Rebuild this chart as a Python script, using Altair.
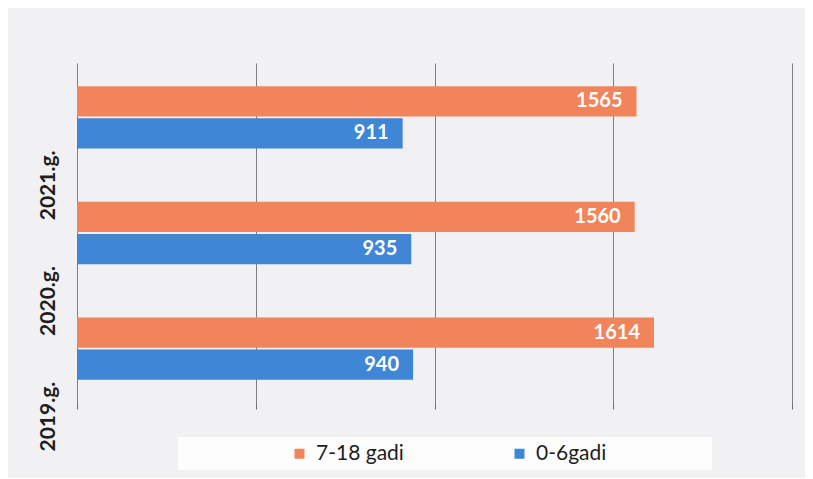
import altair as alt
import pandas as pd

years = ["2019.g.", "2020.g.", "2021.g."]
series = ["7-18 gadi", "0-6gadi"]
vals_7_18 = [1614, 1560, 1565]
vals_0_6 = [940, 935, 911]
colors = ["#f2845c", "#3f86d6"]
x_ticks = [0, 500, 1000, 1500, 2000]

rows = []
for i, y in enumerate(years):
    rows.append({"year": y, "group": series[0], "value": vals_7_18[i]})
    rows.append({"year": y, "group": series[1], "value": vals_0_6[i]})
df = pd.DataFrame(rows)

FONT = "Lato"

y_enc = alt.Y(
    "year:N",
    sort=list(reversed(years)),
    scale=alt.Scale(paddingInner=0.46, paddingOuter=0.2),
    axis=alt.Axis(
        title=None, labelAngle=-90, labelFont=FONT, labelFontWeight="bold",
        labelFontSize=21, labelColor="#1e1e1e", labelPadding=19,
        labelOffset=68, ticks=False, domain=False, grid=False,
    ),
)
x_enc = alt.X(
    "value:Q",
    scale=alt.Scale(domain=[0, 2000], nice=False),
    axis=alt.Axis(
        title=None, values=x_ticks, labels=False, ticks=True, tickSize=6,
        tickColor="#6e6e6e", domain=False, grid=True, gridColor="#7e7e7e",
        gridWidth=1,
    ),
)
yoff = alt.YOffset("group:N", sort=series, scale=alt.Scale(paddingInner=0.06))

legend_box = alt.Chart(pd.DataFrame({"k": [0]})).mark_rect(
    color="#ffffff", opacity=0.85
).encode(
    x=alt.value(101), x2=alt.value(635), y=alt.value(374), y2=alt.value(407)
)

bars = alt.Chart(df).mark_bar().encode(
    y=y_enc,
    x=x_enc,
    yOffset=yoff,
    color=alt.Color(
        "group:N",
        sort=series,
        scale=alt.Scale(domain=series, range=colors),
        legend=alt.Legend(
            title=None, orient="none", legendX=212, legendY=380,
            direction="horizontal", symbolType="square", symbolSize=100,
            symbolStrokeWidth=0, labelFont=FONT, labelFontSize=21,
            labelColor="#1e1e1e", columnPadding=105, labelOffset=6,
        ),
    ),
)

labels = alt.Chart(df).mark_text(
    align="right", baseline="middle", dx=-14, font=FONT, fontSize=20,
    fontWeight="bold", color="white",
).encode(
    y=alt.Y("year:N", sort=list(reversed(years))),
    x=alt.X("value:Q"),
    yOffset=yoff,
    text=alt.Text("value:Q"),
)

chart = alt.layer(legend_box, bars, labels).properties(
    width=715,
    height=340,
    autosize=alt.AutoSizeParams(type="none"),
    padding={"left": 69, "top": 55, "right": 13, "bottom": 75},
    background="#f1f1f4",
).configure_view(stroke=None)

chart.save("out.html", embed_options={"renderer": "svg", "actions": False})
